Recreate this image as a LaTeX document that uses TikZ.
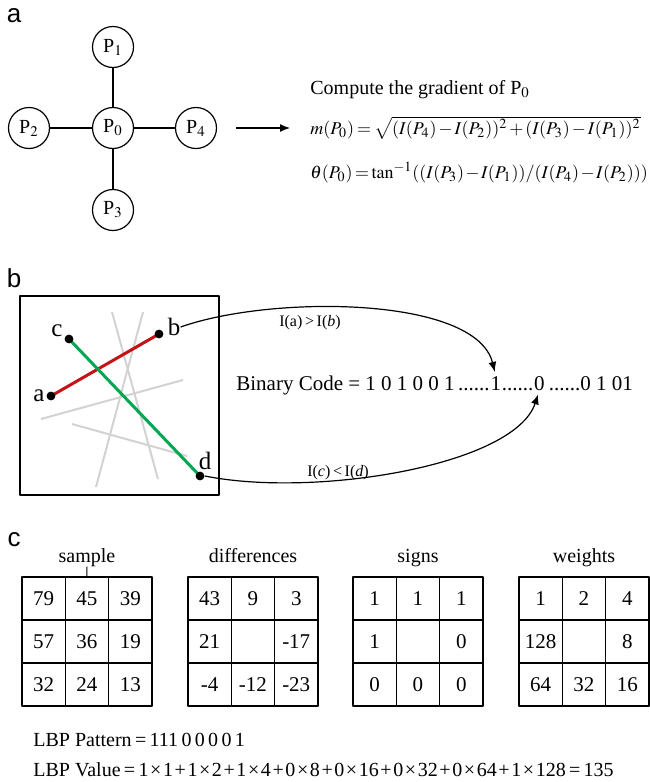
\documentclass[tikz,border=0pt]{standalone}
\usepackage{mathptmx}
\usepackage{fontspec}
\setmainfont{Liberation Serif}
\newfontfamily\panelfont{Liberation Sans}
\usetikzlibrary{arrows.meta}
\definecolor{lineRed}{RGB}{196,18,22}
\definecolor{lineGreen}{RGB}{0,166,81}
\definecolor{lineGray}{RGB}{210,210,210}
\tikzset{
  every picture/.style={line join=round, >={Latex[length=5pt,width=4pt]}},
  panel/.style={font=\panelfont\fontsize{13}{13}\selectfont, inner sep=0pt},
  txt/.style={font=\fontsize{10}{12}\selectfont, inner sep=0pt},
  codetxt/.style={font=\fontsize{10.5}{12}\selectfont, inner sep=0pt},
  formula/.style={font=\fontsize{9}{12}\selectfont, inner sep=0pt},
  small/.style={font=\fontsize{8}{10}\selectfont, inner sep=0pt},
  pnode/.style={circle, draw, line width=0.6pt, minimum size=20.5pt, inner sep=0pt, font=\fontsize{10}{12}\selectfont},
  ptlabel/.style={font=\fontsize{12.5}{14}\selectfont, inner sep=0pt},
  dot/.style={circle, fill, inner sep=0pt, minimum size=4.4pt},
  cell/.style={draw, line width=0.8pt, minimum size=21.65pt, inner sep=0pt, font=\fontsize{10.5}{12}\selectfont},
}
% one 3x3 grid of panel c: name, left x, title, values
\newcommand{\lbpgrid}[4]{%
  \node[txt, anchor=base] (#1t) at (#2+65,562) {#3};
  \foreach \v [count=\k from 0] in {#4} {
    \pgfmathtruncatemacro\gc{mod(\k,3)}
    \pgfmathtruncatemacro\gr{\k/3}
    \node[cell] (#1\k) at (#2+21.65+43.3*\gc, 598.5+43*\gr) {\v};
  }
}
\newcommand{\op}[1]{\kern0.8pt#1\kern0.8pt}

\begin{document}
\begin{tikzpicture}[x=0.5pt,y=-0.5pt]
\useasboundingbox (0,0) rectangle (649,782);

% a
\node[panel] (la) at (14,16) {a};
\node[pnode] (p0) at (113,128) {P$_0$};
\node[pnode] (p1) at (113,47) {P$_1$};
\node[pnode] (p2) at (29,128) {P$_2$};
\node[pnode] (p3) at (113,210) {P$_3$};
\node[pnode] (p4) at (196,128) {P$_4$};
\foreach \n in {p1,p2,p3,p4}
  \draw[line width=0.6pt] (p0) -- (\n);
\node[txt, anchor=base west] (comp) at (310,94) {Compute the gradient of P$_0$};
\node[formula, anchor=base west] (mag) at (310,134)
  {$\medmuskip=2mu\thickmuskip=3mu m(P_0)=\sqrt{(I(P_4)-I(P_2))^2+(I(P_3)-I(P_1))^2}$};
\node[formula, anchor=base west] (ang) at (310,178)
  {$\medmuskip=1.5mu\thickmuskip=2.5mu \theta(P_0)=\tan^{-1}((I(P_3)-I(P_1))/(I(P_4)-I(P_2)))$};
\draw[->, line width=0.6pt, shorten <=9.5pt, shorten >=10pt] (p4.east) -- (p4.east -| mag.west);

% b
\node[panel] (lb) at (14,278) {b};
\draw[line width=0.9pt] (20,296) rectangle (219,495);
\draw[lineGray, line width=1pt] (112,312) -- (158,479);
\draw[lineGray, line width=1pt] (143,312) -- (96,487);
\draw[lineGray, line width=1pt] (41,419) -- (183,380);
\draw[lineGray, line width=1pt] (72,424) -- (187,456);
\coordinate (a) at (51,396);
\coordinate (b) at (159,334);
\coordinate (c) at (69,339);
\coordinate (d) at (200,476);
\draw[lineRed, line width=1.5pt] (a) -- (b);
\draw[lineGreen, line width=1.5pt] (c) -- (d);
\node[dot] (da) at (a) {};
\node[dot] (db) at (b) {};
\node[dot] (dc) at (c) {};
\node[dot] (dd) at (d) {};
\node[ptlabel] (ta) at (39,396) {a};
\node[ptlabel] (tb) at (174,327) {b};
\node[ptlabel] (tc) at (57,331) {c};
\node[ptlabel] (td) at (205,461) {d};

\node[codetxt, anchor=base west] (code) at (236,390) {Binary Code = 1 0 1 0 0 1\,......};
\node[codetxt, anchor=base west] (one) at (code.base east) {1};
\node[codetxt, anchor=base west] (mid) at (one.base east) {......\hspace{3.5pt}};
\node[codetxt, anchor=base west] (zero) at (mid.base east) {0};
\node[codetxt, anchor=base west] (rest) at (zero.base east) {\,......0 1 01};
\draw[->, line width=0.6pt, shorten >=2pt] (tb.east) .. controls +(90,-32) and +(-20,-80) .. (one.north);
\draw[->, line width=0.6pt, shorten >=2pt] (dd.east) .. controls +(110,22) and +(-25,75) .. (zero.south);
\node[small] (ab) at (310,323) {I(a)\,>\,I(\textit{b})};
\node[small] (cd) at (338,473) {I(\textit{c})\,<\,I(\textit{d})};

% c
\node[panel] (lc) at (14,540) {c};
\lbpgrid{s}{22}{sample}{79,45,39,57,36,19,32,24,13}
\lbpgrid{f}{188}{differences}{43,9,3,21,{},-17,-4,-12,-23}
\lbpgrid{g}{353}{signs}{1,1,1,1,{},0,0,0,0}
\lbpgrid{w}{519}{weights}{1,2,4,128,{},8,64,32,16}
\draw[line width=0.5pt] (st.south) -- (s1.north);
\node[txt, anchor=base west] (pat) at (33,746) {LBP Pattern\,=\,111\,0\,0\,0\,0\,1};
\node[txt, anchor=base west] (val) at (33,776)
  {LBP Value\,=\,1\op×1\op+1\op×2\op+1\op×4\op+0\op×8\op+0\op×16\op+0\op×32\op+0\op×64\op+1\op×128\,=\,135};
\end{tikzpicture}
\end{document}
